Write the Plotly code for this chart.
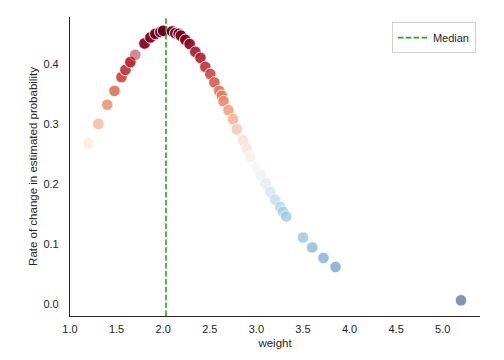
import plotly.graph_objects as go

weight = [1.198, 1.305, 1.40, 1.477, 1.552, 1.595, 1.648, 1.70, 1.80, 1.863, 1.916, 1.97, 2.0,
          2.095, 2.13, 2.166, 2.19, 2.238, 2.284, 2.345, 2.40, 2.452, 2.506, 2.55, 2.602, 2.63,
          2.648, 2.70, 2.75, 2.79, 2.856, 2.899, 2.935, 2.999, 3.049, 3.10, 3.149, 3.20, 3.256,
          3.285, 3.32, 3.50, 3.60, 3.72, 3.85, 5.196]
rate = [0.268, 0.300, 0.332, 0.355, 0.378, 0.390, 0.403, 0.415, 0.434, 0.444, 0.450, 0.453, 0.455,
        0.454, 0.451, 0.450, 0.447, 0.440, 0.433, 0.420, 0.410, 0.395, 0.383, 0.369, 0.355, 0.347,
        0.338, 0.323, 0.308, 0.291, 0.273, 0.259, 0.245, 0.229, 0.215, 0.201, 0.187, 0.174, 0.162,
        0.154, 0.146, 0.111, 0.0945, 0.077, 0.062, 0.0065]
# number of observations sharing each weight (overlapping markers)
count = [1, 3, 3, 3, 4, 4, 4, 1, 5, 4, 4, 4, 4,
         4, 4, 4, 4, 4, 4, 3, 3, 3, 3, 3, 3, 3,
         3, 3, 3, 3, 2, 2, 2, 2, 2, 2, 2, 2, 2,
         2, 2, 1, 1, 1, 1, 1]
median_weight = 2.03

xs, ys = [], []
for w, r, c in zip(weight, rate, count):
    xs += [w] * c
    ys += [r] * c

rdbu_r = ['#053061', '#2166ac', '#4393c3', '#92c5de', '#d1e5f0', '#f7f7f7',
          '#fddbc7', '#f4a582', '#d6604d', '#b2182b', '#67001f']
colorscale = [[i / (len(rdbu_r) - 1), c] for i, c in enumerate(rdbu_r)]

fig = go.Figure()
fig.add_trace(go.Scatter(
    x=xs, y=ys, mode='markers', showlegend=False,
    marker=dict(size=11.5, color=ys, colorscale=colorscale,
                cmin=min(rate), cmax=max(rate), opacity=0.5,
                line=dict(color='white', width=0.8)),
))
y0, y1 = -0.0195, 0.478
fig.add_trace(go.Scatter(
    x=[median_weight, median_weight], y=[y0, y1], mode='lines', name='Median',
    line=dict(color='#2ca02c', width=1.6, dash='5.5px,2.4px'),
))

font = 'Liberation Sans, Arial, sans-serif'
fig.update_layout(
    width=504, height=360,
    margin=dict(l=70, r=24, t=17, b=44),
    paper_bgcolor='white', plot_bgcolor='white',
    font=dict(family=font, size=11, color='#262626'),
    legend=dict(x=0.99, y=0.983, xanchor='right', yanchor='top',
                bordercolor='#d0d0d0', borderwidth=1, bgcolor='white',
                itemwidth=30, font=dict(size=11)),
    xaxis=dict(range=[1.0, 5.4], tickvals=[1.0, 1.5, 2.0, 2.5, 3.0, 3.5, 4.0, 4.5, 5.0],
               ticktext=['1.0', '1.5', '2.0', '2.5', '3.0', '3.5', '4.0', '4.5', '5.0'],
               showgrid=False, zeroline=False, showline=True, linecolor='#262626',
               linewidth=1.25, ticks='', ticklabelstandoff=3, automargin=False,
               title=dict(text='weight', standoff=4, font=dict(size=11.5))),
    yaxis=dict(range=[y0, y1], tickvals=[0.0, 0.1, 0.2, 0.3, 0.4],
               ticktext=['0.0', '0.1', '0.2', '0.3', '0.4'],
               showgrid=False, zeroline=False, showline=True, linecolor='#262626',
               linewidth=1.25, ticks='', ticklabelstandoff=8, automargin=False,
               title=dict(text='Rate of change in estimated probability', standoff=3,
                          font=dict(size=11.5))),
)
fig.write_html('out.html', config={'displayModeBar': False},
               post_script="document.body.style.margin='0';")
